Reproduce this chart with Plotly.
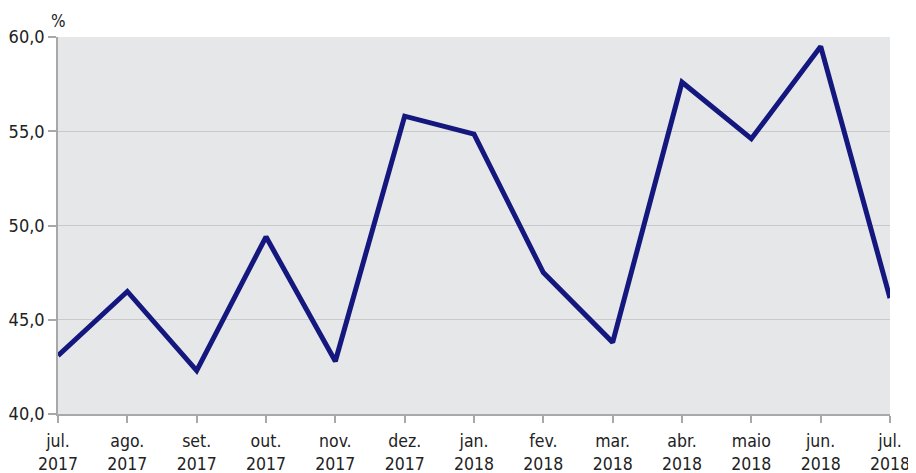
import plotly.graph_objects as go

months = ["jul.<br>2017", "ago.<br>2017", "set.<br>2017", "out.<br>2017", "nov.<br>2017",
          "dez.<br>2017", "jan.<br>2018", "fev.<br>2018", "mar.<br>2018", "abr.<br>2018",
          "maio<br>2018", "jun.<br>2018", "jul.<br>2018"]
values = [43.1, 46.5, 42.3, 49.4, 42.8, 55.8, 54.85, 47.5, 43.8, 57.6, 54.6, 59.5, 46.15]
y_ticks = [40, 45, 50, 55, 60]
y_tick_labels = ["40,0", "45,0", "50,0", "55,0", "60,0"]

font_family = "DejaVu Sans Condensed, Liberation Sans Narrow, Arial Narrow, sans-serif"

fig = go.Figure()
fig.add_trace(go.Scatter(
    x=list(range(len(months))), y=values, mode="lines",
    line=dict(color="#14177d", width=5),
    cliponaxis=False,
    hoverinfo="skip",
))

fig.update_layout(
    width=908, height=465,
    margin=dict(l=50, r=26, t=29, b=59),
    paper_bgcolor="white",
    plot_bgcolor="#e6e7e9",
    showlegend=False,
    font=dict(family=font_family, size=17, color="#222222"),
    xaxis=dict(
        range=[0, len(months) - 1],
        tickmode="array", tickvals=list(range(len(months))), ticktext=months,
        showgrid=False, zeroline=False, automargin=False,
        showline=True, linecolor="#a8a8a8", linewidth=1.5,
        ticks="outside", ticklen=7, tickcolor="#a8a8a8", tickwidth=1.5,
        ticklabelstandoff=3,
        tickfont=dict(family=font_family, size=17.5, color="#222222"),
    ),
    yaxis=dict(
        range=[40, 60],
        tickmode="array", tickvals=y_ticks, ticktext=y_tick_labels,
        showgrid=True, gridcolor="#c9c9cb", gridwidth=1,
        zeroline=False, automargin=False,
        showline=True, linecolor="#a8a8a8", linewidth=1.5,
        ticks="outside", ticklen=8, tickcolor="#a8a8a8", tickwidth=1.5,
        tickfont=dict(family=font_family, size=18, color="#222222"),
    ),
    annotations=[dict(
        text="%", xref="paper", yref="paper", x=0, y=1, xanchor="center", yanchor="bottom",
        yshift=4, showarrow=False, font=dict(family=font_family, size=17, color="#222222"),
    )],
)

fig.write_html("out.html")
